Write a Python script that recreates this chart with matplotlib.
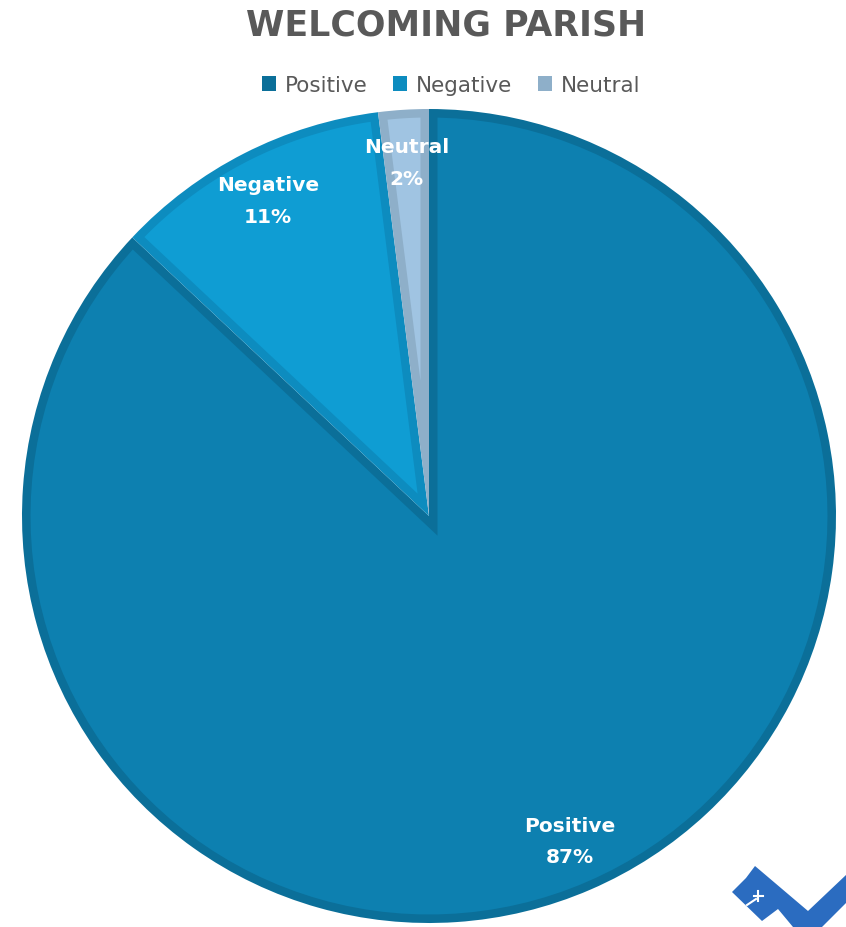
import matplotlib
matplotlib.use('Agg')
import numpy as np
import matplotlib.pyplot as plt
from matplotlib.patches import Patch, Polygon
from matplotlib.lines import Line2D

labels = ['Positive', 'Negative', 'Neutral']
shares = [87, 11, 2]
fills = ['#0d80b0', '#0f9dd3', '#a0c4e2']
edges = ['#0b6f99', '#0d8cbf', '#8eafc9']

plt.rcParams['font.family'] = ['DejaVu Sans']

W, H = 846, 928
fig = plt.figure(figsize=(W / 100, H / 100), dpi=100)


def px(x, y):
    # pixel position (from top-left) -> figure fraction
    return (x / W, 1 - y / H)


def inset(wedge, d, n=120):
    # slice shrunk by d on every side (mitred at the centre)
    t1, t2 = np.radians(wedge.theta1), np.radians(wedge.theta2)
    R = wedge.r - d
    half = (t2 - t1) / 2
    mid = (t1 + t2) / 2
    v = d / np.sin(half) * np.array([np.cos(mid), np.sin(mid)])
    da = np.arcsin(d / R)
    arc = np.linspace(t1 + da, t2 - da, n)
    pts = np.column_stack([R * np.cos(arc), R * np.sin(arc)])
    return np.vstack([v, pts, v]) + np.asarray(wedge.center)


# pie area
cx, cy, r = 429, 517, 407
ax = fig.add_axes([(cx - r) / W, (H - cy - r) / H, 2 * r / W, 2 * r / H])
wedges, texts = ax.pie(shares,
                       labels=[f'{l}\n{v}%' for l, v in zip(labels, shares)],
                       colors=edges, startangle=90, counterclock=False,
                       labeldistance=0.87, radius=1,
                       wedgeprops=dict(linewidth=0))
ax.set_xlim(-1, 1)
ax.set_ylim(-1, 1)

# lighter body inside the darker rim of each slice
border = 8.5 / r
for w, fc in zip(wedges, fills):
    ax.add_patch(Polygon(inset(w, border), closed=True, facecolor=fc,
                         edgecolor='none', zorder=w.get_zorder() + 0.1))

for t in texts:
    t.set(ha='center', va='center', color='white', fontweight='bold',
          fontsize=14.5, linespacing=1.85, zorder=5)

fig.text(*px(446, 26), 'WELCOMING PARISH', ha='center', va='center',
         fontsize=25, fontweight='bold', color='#595959')

handles = [Patch(facecolor=ec, edgecolor='none') for ec in edges]
fig.legend(handles, labels, loc='center', bbox_to_anchor=px(451, 86),
           ncol=3, frameon=False, fontsize=15.5, handlelength=0.65,
           handleheight=0.65, handletextpad=0.4, columnspacing=1.2,
           labelcolor='#595959')

# parish logo in the corner
logo = [(732, 893), (743, 882), (746, 879), (755, 867), (808, 912),
        (846, 876), (846, 904), (822, 928), (793, 928), (778, 910),
        (762, 922)]
fig.patches.append(Polygon([px(x, y) for x, y in logo], closed=True,
                           facecolor='#2b6cc0', edgecolor='none',
                           transform=fig.transFigure))
for xs, ys in [((754, 763), (897, 897)), ((758, 758), (892, 902)),
               ((756, 747), (900, 906))]:
    p0, p1 = px(xs[0], ys[0]), px(xs[1], ys[1])
    fig.lines.append(Line2D([p0[0], p1[0]], [p0[1], p1[1]], color='white',
                            lw=1.5, transform=fig.transFigure))

fig.savefig('out.png', dpi=100)
